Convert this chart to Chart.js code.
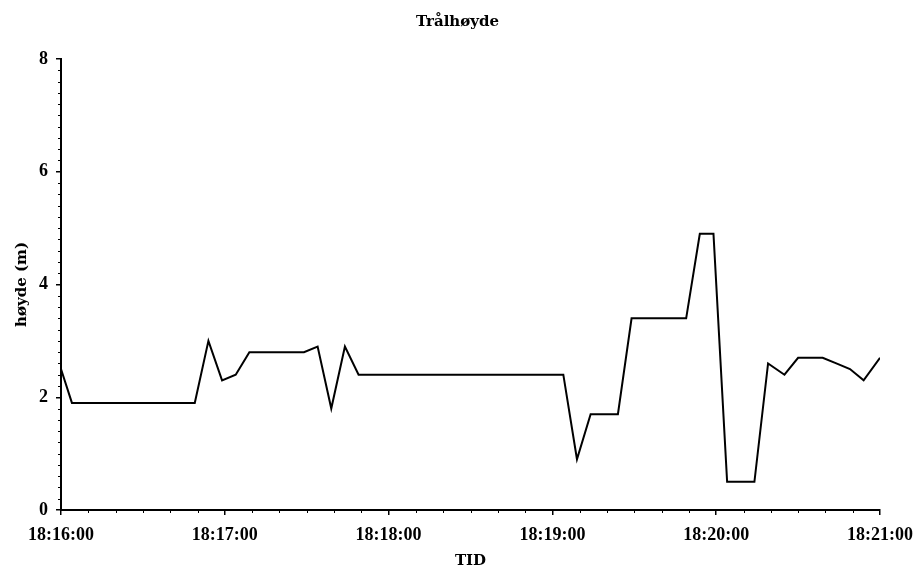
<!DOCTYPE html>
<html>
<head>
<meta charset="utf-8">
<script src="https://cdn.jsdelivr.net/npm/chart.js@4/dist/chart.umd.min.js"></script>
<style>
  html, body { margin: 0; padding: 0; background: #fff; }
  #wrap { width: 915px; height: 575px; }
</style>
</head>
<body>
<div id="wrap"><canvas id="trawlChart" width="915" height="575"></canvas></div>
<script>
// data
const times = ['18:16:00', '18:16:04', '18:16:49', '18:16:54', '18:16:59', '18:17:04', '18:17:09',
  '18:17:29', '18:17:34', '18:17:39', '18:17:44', '18:17:49', '18:19:04', '18:19:09', '18:19:14',
  '18:19:24', '18:19:29', '18:19:49', '18:19:54', '18:19:59', '18:20:04', '18:20:14', '18:20:19',
  '18:20:25', '18:20:30', '18:20:39', '18:20:44', '18:20:49', '18:20:54', '18:21:00'];
const heights = [2.5, 1.9, 1.9, 3.0, 2.3, 2.4, 2.8,
  2.8, 2.9, 1.8, 2.9, 2.4, 2.4, 0.9, 1.7,
  1.7, 3.4, 3.4, 4.9, 4.9, 0.5, 0.5, 2.6,
  2.4, 2.7, 2.7, 2.6, 2.5, 2.3, 2.7];
const xTickLabels = ['18:16:00', '18:17:00', '18:18:00', '18:19:00', '18:20:00', '18:21:00'];
const yTickValues = [0, 2, 4, 6, 8];

const TICK_FONT = "'Liberation Serif', 'Times New Roman', serif";
const TEXT_FONT = "'DejaVu Serif', serif";

function toSec(t) {
    const p = t.split(':').map(Number);
    return p[0] * 3600 + p[1] * 60 + p[2];
}
function toTime(s) {
    const pad = n => String(n).padStart(2, '0');
    return pad(Math.floor(s / 3600)) + ':' + pad(Math.floor(s / 60) % 60) + ':' + pad(s % 60);
}

const points = times.map((t, i) => ({ x: toSec(t), y: heights[i] }));
const xMin = toSec(xTickLabels[0]);
const xMax = toSec(xTickLabels[xTickLabels.length - 1]);

// små hjelpestreker på aksene
const minorTicks = {
    id: 'minorTicks',
    afterDraw(chart) {
        const ctx = chart.ctx;
        const xs = chart.scales.x, ys = chart.scales.y;
        ctx.save();
        ctx.strokeStyle = '#000';
        ctx.lineWidth = 1;
        ctx.beginPath();
        for (let s = xMin; s <= xMax; s += 10) {
            if ((s - xMin) % 60 === 0) continue;
            const px = Math.round(xs.getPixelForValue(s)) + 0.5;
            ctx.moveTo(px, xs.top);
            ctx.lineTo(px, xs.top + 3);
        }
        for (let k = 0; k <= 40; k++) {
            if (k % 10 === 0) continue;
            const py = Math.round(ys.getPixelForValue(k * 0.2)) + 0.5;
            ctx.moveTo(ys.right, py);
            ctx.lineTo(ys.right - 3, py);
        }
        ctx.stroke();
        ctx.restore();
    }
};

const ctx = document.getElementById('trawlChart').getContext('2d');
const chart = new Chart(ctx, {
    type: 'line',
    data: {
        datasets: [{
            label: 'Trålhøyde',
            data: points,
            borderColor: '#000',
            borderWidth: 2,
            pointRadius: 0,
            tension: 0,
            fill: false
        }]
    },
    options: {
        responsive: false,
        animation: false,
        layout: { padding: 0 },
        plugins: {
            legend: { display: false },
            tooltip: { enabled: false },
            title: {
                display: true,
                text: 'Trålhøyde',
                color: '#000',
                font: { family: TEXT_FONT, size: 15, weight: 'bold' },
                padding: { top: 13, bottom: 28 }
            }
        },
        scales: {
            x: {
                type: 'linear',
                min: xMin,
                max: xMax,
                afterBuildTicks: scale => {
                    scale.ticks = xTickLabels.map(t => ({ value: toSec(t) }));
                },
                afterFit: scale => {
                    scale.height = 65;
                    scale.paddingLeft = 0;
                    scale.paddingRight = 35;
                },
                ticks: {
                    color: '#000',
                    font: { family: TICK_FONT, size: 18, weight: 'bold' },
                    padding: 10,
                    maxRotation: 0,
                    autoSkip: false,
                    callback: v => toTime(v)
                },
                grid: { drawOnChartArea: false, tickLength: 5, color: '#000', lineWidth: 1.5 },
                border: { display: true, color: '#000', width: 2 },
                title: {
                    display: true,
                    text: 'TID',
                    color: '#000',
                    font: { family: TEXT_FONT, size: 15, weight: 'bold' },
                    padding: { top: 0, bottom: 5 }
                }
            },
            y: {
                min: 0,
                max: 8,
                afterBuildTicks: scale => {
                    scale.ticks = yTickValues.map(v => ({ value: v }));
                },
                afterFit: scale => { scale.width = 61; },
                ticks: {
                    color: '#000',
                    font: { family: TICK_FONT, size: 18, weight: 'bold' },
                    padding: 8
                },
                grid: { drawOnChartArea: false, tickLength: 5, color: '#000', lineWidth: 1.5 },
                border: { display: true, color: '#000', width: 2 },
                title: {
                    display: true,
                    text: 'høyde (m)',
                    color: '#000',
                    font: { family: TEXT_FONT, size: 15, weight: 'bold' },
                    padding: { top: 13, bottom: 0 }
                }
            }
        }
    },
    plugins: [minorTicks]
});
</script>
</body>
</html>
